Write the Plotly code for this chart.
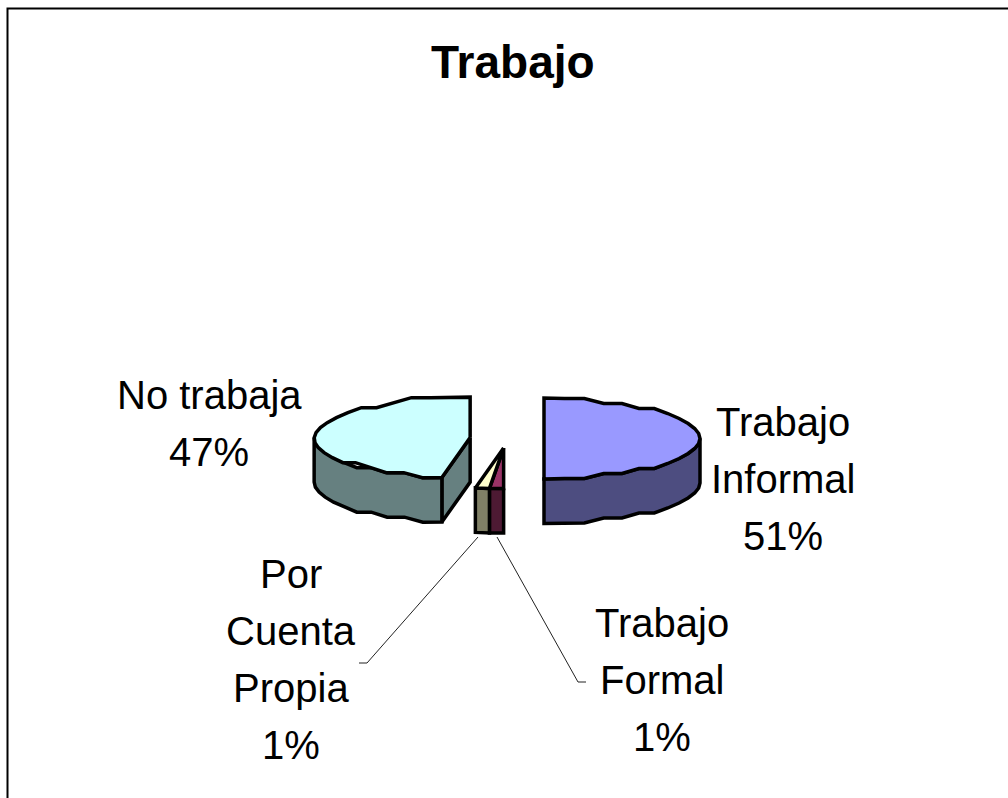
import numpy as np
import plotly.graph_objects as go

# ---- data ----
categories = ["Trabajo Informal", "Trabajo Formal", "Por Cuenta Propia", "No trabaja"]
slice_sizes = [50.0, 1.45, 1.45, 47.1]          # share of the turn each wedge takes in the drawing
percent_labels = ["51%", "1%", "1%", "47%"]     # printed labels

# ---- styling / layout ----
W, H = 1008, 798
CX, CY, RX, RY, DEPTH, EXPLODE = 507, 438.5, 156, 40.5, 44.5, 37
GRID_Y = 5.0                                    # coarse grid that gives the rim its faceted look
top_colors = ["#9999FF", "#993366", "#FFFFCC", "#CCFFFF"]
side_colors = ["#4D4D80", "#4D1A33", "#808066", "#668080"]
explode_group = [0, 1, 1, 2]
draw_order = [3, 0, 1, 2]
FONT = "Liberation Sans, Arial, sans-serif"
label_lines = [
    (["Trabajo", "Informal"], 783, 422),
    (["Trabajo", "Formal"], 662, 623),
    (["Por", "Cuenta", "Propia"], 291, 574),
    (["No trabaja"], 209, 395),
]
LINE_STEP = 57
leaders = [([497, 578, 586], [537, 682, 682]), ([478, 367, 359], [537, 663, 663])]

# ---- geometry from the values ----
edges = np.concatenate([[0], np.cumsum(slice_sizes)]) / sum(slice_sizes) * 2 * np.pi
mids = (edges[:-1] + edges[1:]) / 2
group_mid = {g: np.mean([m for m, gg in zip(mids, explode_group) if gg == g]) for g in set(explode_group)}


def arc(a0, a1, cx, cy, step=np.radians(7.5)):
    n = max(1, int(np.ceil((a1 - a0) / step)))
    t = np.linspace(a0, a1, n + 1)
    x = cx + RX * np.sin(t)
    y = cy - RY * np.cos(t)
    if n > 4:
        y[1:-1] = cy + np.round((y[1:-1] - cy) / GRID_Y) * GRID_Y
    return x, y


fig = go.Figure()


def poly(x, y, color):
    x, y = list(x), list(y)
    fig.add_trace(go.Scatter(
        x=x + x[:1], y=y + y[:1], mode="lines", fill="toself", fillcolor=color,
        line=dict(color="black", width=3.5, shape="linear"), hoverinfo="skip", showlegend=False,
    ))


n_slices = len(slice_sizes)
for i in draw_order:
    a0, a1 = edges[i], edges[i + 1]
    m = group_mid[explode_group[i]]
    cx = CX + EXPLODE * np.sin(m)
    cy = CY - EXPLODE * np.cos(m) * RY / RX
    # radial faces that look towards the viewer (not where a wedge touches its neighbour)
    prev_same = explode_group[(i - 1) % n_slices] == explode_group[i]
    next_same = explode_group[(i + 1) % n_slices] == explode_group[i]
    for ang, visible in ((a0, np.sin(a0) < -1e-6 and not prev_same),
                         (a1, np.sin(a1) > 1e-6 and not next_same)):
        if visible:
            ex, ey = cx + RX * np.sin(ang), cy - RY * np.cos(ang)
            poly([cx, ex, ex, cx], [cy, ey, ey + DEPTH, cy + DEPTH], side_colors[i])
    # outer wall, front half only
    lo, hi = max(a0, np.pi / 2), min(a1, 3 * np.pi / 2)
    if hi > lo:
        ax, ay = arc(lo, hi, cx, cy)
        poly(np.r_[ax, ax[::-1]], np.r_[ay, ay[::-1] + DEPTH], side_colors[i])
    # top
    ax, ay = arc(a0, a1, cx, cy)
    poly(np.r_[cx, ax], np.r_[cy, ay], top_colors[i])

for lx, ly in leaders:
    fig.add_trace(go.Scatter(x=lx, y=ly, mode="lines", line=dict(color="#222222", width=1),
                             hoverinfo="skip", showlegend=False))

ann = [dict(text="<b>Trabajo</b>", x=513, y=62, font=dict(size=46, family=FONT, color="black"))]
for (lines, x, y), pct in zip(label_lines, percent_labels):
    for k, t in enumerate(lines + [pct]):
        ann.append(dict(text=t, x=x, y=y + k * LINE_STEP, font=dict(size=40, family=FONT, color="black")))
for a in ann:
    a.update(xref="x", yref="y", showarrow=False, xanchor="center", yanchor="middle")

fig.update_layout(
    width=W, height=H, margin=dict(l=0, r=0, t=0, b=0), autosize=False,
    paper_bgcolor="white", plot_bgcolor="white", annotations=ann,
    xaxis=dict(range=[0, W], visible=False, fixedrange=True),
    yaxis=dict(range=[H, 0], visible=False, fixedrange=True),
    shapes=[dict(type="rect", xref="x", yref="y", x0=7.5, y0=8.5, x1=W + 20, y1=H + 20,
                 line=dict(color="black", width=2), layer="below")],
)
fig.write_html("out.html", config={"displayModeBar": False},
               post_script="document.body.style.margin='0';document.body.style.overflow='hidden';")
